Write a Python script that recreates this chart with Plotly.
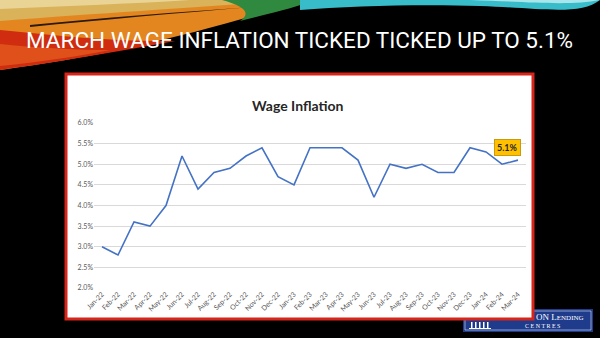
import plotly.graph_objects as go

# Monthly wage inflation, Jan-22 to Mar-24 (%)
months = ["Jan-22", "Feb-22", "Mar-22", "Apr-22", "May-22", "Jun-22", "Jul-22",
          "Aug-22", "Sep-22", "Oct-22", "Nov-22", "Dec-22", "Jan-23", "Feb-23",
          "Mar-23", "Apr-23", "May-23", "Jun-23", "Jul-23", "Aug-23", "Sep-23",
          "Oct-23", "Nov-23", "Dec-23", "Jan-24", "Feb-24", "Mar-24"]
wage_inflation = [3.0, 2.8, 3.6, 3.5, 4.0, 5.2, 4.4, 4.8, 4.9, 5.2, 5.4, 4.7, 4.5,
                  5.4, 5.4, 5.4, 5.1, 4.2, 5.0, 4.9, 5.0, 4.8, 4.8, 5.4, 5.3, 5.0, 5.1]
y_ticks = [2.0, 2.5, 3.0, 3.5, 4.0, 4.5, 5.0, 5.5, 6.0]

slide_title = "MARCH WAGE INFLATION TICKED TICKED UP TO 5.1%"
chart_title = "Wage Inflation"

W, H = 600, 338
ML, MR, MT, MB = 94, 74, 123, 50
PW, PH = W - ML - MR, H - MT - MB


# Shapes and paper annotations are placed relative to the plot area,
# so convert slide pixel positions into plot-area fractions.
def X(x):
    return (x - ML) / PW


def Y(y):
    return (H - MB - y) / PH


def path(cmds, color):
    """cmds: list of (command letter, [(x, y), ...]) in slide pixels."""
    parts = []
    for c, pts in cmds:
        parts.append(c + " " + " ".join(f"{X(x):.4f},{Y(y):.4f}" for x, y in pts))
    d = " ".join(parts) + " Z"
    return dict(type="path", xref="paper", yref="paper", path=d,
                fillcolor=color, line=dict(width=0), layer="below")


def rect(x0, y0, x1, y1, fill, line_color=None, line_width=0):
    return dict(type="rect", xref="paper", yref="paper",
                x0=X(x0), x1=X(x1), y0=Y(y1), y1=Y(y0),
                fillcolor=fill, layer="below",
                line=dict(color=line_color or fill, width=line_width))


shapes = []
# Swooping colour ribbon across the top of the slide
shapes.append(path([("M", [(0, 0)]), ("L", [(305, 0), (305, 9)]),
                    ("C", [(260, 14), (200, 32), (120, 50)]),
                    ("C", [(80, 58), (30, 66), (0, 70)])], "#e3861f"))
shapes.append(path([("M", [(0, 30)]), ("C", [(60, 36), (120, 42), (175, 41)]),
                    ("C", [(140, 48), (100, 54), (60, 61)]),
                    ("C", [(30, 66), (10, 68), (0, 70)])], "#cf2c10"))
shapes.append(path([("M", [(0, 44)]), ("C", [(40, 48), (80, 50), (110, 50)]),
                    ("C", [(80, 56), (40, 62), (0, 66)])], "#e0501a"))
shapes.append(path([("M", [(0, 0)]), ("L", [(292, 0)]),
                    ("C", [(220, 6), (120, 12), (0, 21)])], "#d9b25a"))
shapes.append(path([("M", [(0, 0)]), ("L", [(190, 0)]),
                    ("C", [(130, 4), (60, 6), (0, 9)])], "#e9d495"))
shapes.append(path([("M", [(30, 25)]), ("C", [(100, 18), (180, 12), (252, 7)]),
                    ("C", [(180, 13), (100, 20), (30, 27)])], "#2a1b0c"))
shapes.append(path([("M", [(222, 0)]), ("L", [(315, 0), (305, 9)]),
                    ("C", [(285, 11), (262, 15), (240, 21)]),
                    ("C", [(252, 13), (244, 6), (222, 0)])], "#2f8a3f"))
shapes.append(path([("M", [(300, 0)]), ("L", [(600, 0), (600, 27)]),
                    ("C", [(580, 16), (540, 8), (480, 6)]),
                    ("C", [(420, 4), (350, 6), (300, 10)])], "#38bcc9"))
shapes.append(path([("M", [(470, 0)]), ("L", [(600, 0), (600, 16)]),
                    ("C", [(570, 6), (530, 2), (470, 0)])], "#a8e6ec"))

# Logo block (partly tucked behind the chart panel)
shapes.append(rect(463, 309, 593, 332, "#1f3b8c"))
shapes.append(rect(465, 311, 591, 330, "rgba(0,0,0,0)", "#dfe6f5", 0.6))
for cx in range(471, 491, 4):
    shapes.append(rect(cx, 322, cx + 1.5, 328, "#ffffff"))
shapes.append(rect(469, 328, 491, 329, "#ffffff"))

# Chart panel with red frame
shapes.append(rect(66, 74, 533, 319, "#ffffff", "#d8251b", 3))

fig = go.Figure()
fig.add_trace(go.Scatter(
    x=months, y=wage_inflation, mode="lines",
    line=dict(color="#4472c4", width=1.6),
    hoverinfo="x+y", showlegend=False,
))

annotations = [
    dict(text=slide_title, xref="paper", yref="paper", x=X(299), y=Y(40),
         xanchor="center", yanchor="middle", showarrow=False,
         font=dict(family="Roboto", size=22.5, weight=400, color="#ffffff")),
    dict(text=f"<b>{chart_title}</b>", xref="paper", yref="paper", x=X(298), y=Y(105),
         xanchor="center", yanchor="middle", showarrow=False,
         font=dict(family="Lato", size=14, color="#262626")),
    dict(text=f"<b>{wage_inflation[-1]:.1f}%</b>", x=months[-1], y=wage_inflation[-1],
         xref="x", yref="y", showarrow=False, xshift=-11, yshift=13,
         bgcolor="#ffc000", bordercolor="#c89a10", borderwidth=1, borderpad=2,
         font=dict(family="Lato", size=9, color="#262626")),
    dict(text="ON L<span style='font-size:7px'>ENDING</span>", xref="paper", yref="paper",
         x=X(586), y=Y(316.5), xanchor="right", yanchor="middle", showarrow=False,
         font=dict(family="Liberation Serif", size=9, color="#ffffff")),
    dict(text="C E N T R E S", xref="paper", yref="paper",
         x=X(542), y=Y(326), xanchor="center", yanchor="middle", showarrow=False,
         font=dict(family="Liberation Serif", size=6, color="#ffffff")),
]

fig.update_layout(
    width=W, height=H,
    margin=dict(l=ML, r=MR, t=MT, b=MB, pad=0),
    paper_bgcolor="#000000",
    plot_bgcolor="#ffffff",
    shapes=shapes,
    annotations=annotations,
    xaxis=dict(
        type="category", categoryorder="array", categoryarray=months,
        range=[-0.5, len(months) - 0.5],
        tickangle=-45, showgrid=False, zeroline=False,
        showline=False, ticks="",
        tickfont=dict(family="Lato", size=7, color="#595959"),
    ),
    yaxis=dict(
        range=[2.0, 6.0], tickvals=y_ticks,
        ticktext=[f"{v:.1f}%" for v in y_ticks],
        showgrid=True, gridcolor="#d9d9d9", gridwidth=1,
        zeroline=False, showline=False, ticks="",
        tickfont=dict(family="Lato", size=7, color="#595959"),
    ),
)

fig.write_html("out.html")
